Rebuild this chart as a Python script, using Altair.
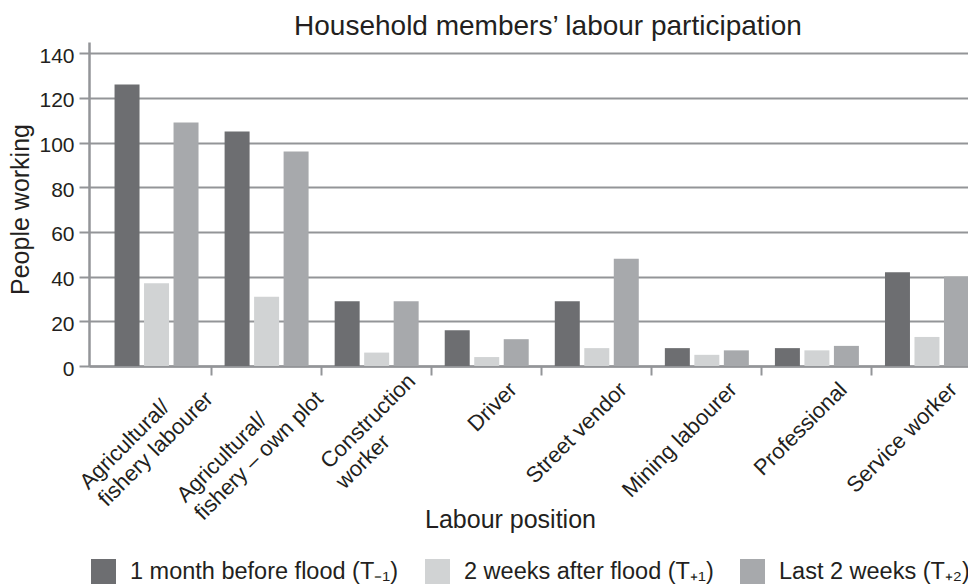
import json
import altair as alt
import pandas as pd

# ---- data ----
categories = [
    "Agricultural/ fishery labourer",
    "Agricultural/ fishery – own plot",
    "Construction worker",
    "Driver",
    "Street vendor",
    "Mining labourer",
    "Professional",
    "Service worker",
]
label_lines = [
    ["Agricultural/", "fishery labourer"],
    ["Agricultural/", "fishery – own plot"],
    ["Construction", "worker"],
    ["Driver"],
    ["Street vendor"],
    ["Mining labourer"],
    ["Professional"],
    ["Service worker"],
]
series = [
    "1 month before flood (T\u208b\u2081)",
    "2 weeks after flood (T\u208a\u2081)",
    "Last 2 weeks (T\u208a\u2082)",
]
before_flood = [126, 105, 29, 16, 29, 8, 8, 42]
after_flood = [37, 31, 6, 4, 8, 5, 7, 13]
last_two_weeks = [109, 96, 29, 12, 48, 7, 9, 40]
y_ticks = [0, 20, 40, 60, 80, 100, 120, 140]

colors = ["#6d6e71", "#d1d3d4", "#a7a9ac"]
GRID = "#939598"
TEXT = "#231f20"
FONT = "Liberation Sans"

rows = []
for i, cat in enumerate(categories):
    for s, vals in zip(series, [before_flood, after_flood, last_two_weeks]):
        rows.append({"position": cat, "period": s, "people": vals[i]})
df = pd.DataFrame(rows)

# rotated label layout: trailing no-break spaces (closed by a zero-width space so
# they are kept) give the two-line labels a left-aligned look and nudge the rest
NB, ZW = "\u00a0", "\u200b"
pads = [[6, 0], [9, 0], [0, 10], [2], [2], [2], [2], [2]]
padded = [[(ln + NB * p + ZW) if p else ln for ln, p in zip(lines, pp)]
          for lines, pp in zip(label_lines, pads)]
label_expr = (
    json.dumps(padded, ensure_ascii=False)
    + "[indexof(" + json.dumps(categories, ensure_ascii=False) + ", datum.label)]"
)

x_axis = alt.Axis(
    title="Labour position",
    titleFont=FONT, titleFontSize=25, titleFontWeight="normal", titleColor=TEXT,
    titleX=421, titleY=161, titleAlign="center", titleBaseline="alphabetic", titleAngle=0,
    domainColor=GRID, domainWidth=2.5,
    tickColor=GRID, tickWidth=2, tickSize=9, bandPosition=1, tickExtra=False,
    labelAngle=315, labelAlign="right", labelBaseline="top",
    labelFont=FONT, labelFontSize=22, labelColor=TEXT,
    labelOffset=28, labelPadding=-5, labelLineHeight=25,
    labelExpr=label_expr, labelOverlap=False, labelLimit=600, labelBound=False,
    grid=False,
)

y_axis = alt.Axis(
    values=y_ticks,
    title="People working",
    titleFont=FONT, titleFontSize=25, titleFontWeight="normal", titleColor=TEXT,
    titleX=-60.5, titleY=167, titleAngle=270, titleAlign="center", titleBaseline="alphabetic",
    grid=True, gridColor=GRID, gridWidth=2,
    domainColor=GRID, domainWidth=2.5,
    tickColor=GRID, tickWidth=2, tickSize=10,
    labelFont=FONT, labelFontSize=21, labelColor=TEXT, labelPadding=5, labelOffset=3,
)

legend = alt.Legend(
    title=None, orient="none", legendX=2, legendY=517, direction="horizontal",
    symbolType="square", symbolSize=625, symbolStrokeWidth=0, symbolOpacity=1,
    labelFont=FONT, labelFontSize=23.5, labelColor=TEXT, labelOffset=14,
    columnPadding=26, labelLimit=600,
)

chart = (
    alt.Chart(df)
    .mark_bar()
    .encode(
        x=alt.X("position:N", sort=categories,
                scale=alt.Scale(range=[0, 893], paddingInner=0, paddingOuter=0.0568, align=1),
                axis=x_axis),
        xOffset=alt.XOffset("period:N", sort=series,
                            scale=alt.Scale(paddingInner=0.153, paddingOuter=0.442)),
        y=alt.Y("people:Q", scale=alt.Scale(domain=[0, 145], nice=False), axis=y_axis),
        color=alt.Color("period:N", sort=series,
                        scale=alt.Scale(domain=series, range=colors), legend=legend),
    )
    .properties(
        width=879,
        height=324,
        title=alt.Title(
            "Household members’ labour participation",
            font=FONT, fontSize=28, fontWeight="normal", color=TEXT,
            anchor="middle", dx=19.5, dy=27, offset=6, baseline="alphabetic",
        ),
        autosize=alt.AutoSizeParams(type="none"),
        padding={"left": 81, "top": 34, "right": 0, "bottom": 218},
        background="white",
    )
    .configure_view(stroke=None)
)

chart.save("out.html", embed_options={"renderer": "svg", "actions": False})
